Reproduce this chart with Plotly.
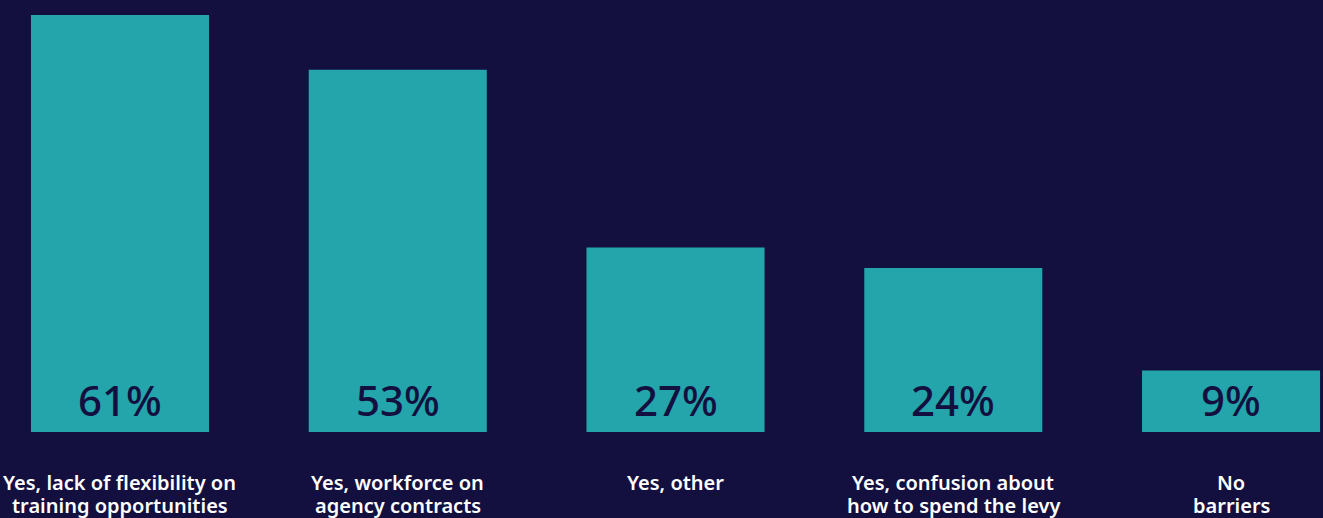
import plotly.graph_objects as go

categories = [
    "Yes, lack of flexibility on<br>training opportunities",
    "Yes, workforce on<br>agency contracts",
    "Yes, other",
    "Yes, confusion about<br>how to spend the levy",
    "No<br>barriers",
]
values = [61, 53, 27, 24, 9]
value_labels = ["61%", "53%", "27%", "24%", "9%"]

BG = "#13103F"
BAR = "#23A5AB"
FONT = "Noto Sans"

x = list(range(len(categories)))

fig = go.Figure()
fig.add_trace(go.Bar(
    x=x, y=values, width=0.641,
    marker=dict(color=BAR, line=dict(width=0)),
    hoverinfo="skip",
))

for xi, v, lab in zip(x, values, value_labels):
    fig.add_annotation(x=xi, y=0, text=lab, showarrow=False,
                       yanchor="middle", yshift=33,
                       font=dict(family=FONT, size=42, color=BG, weight=500))

for xi, c in zip(x, categories):
    for li, line in enumerate(c.split("<br>")):
        fig.add_annotation(x=xi, y=0, text=line, showarrow=False,
                           yanchor="middle", yshift=-50 - 23 * li, align="center",
                           font=dict(family=FONT, size=20, color="#FFFFFF", weight=600))

fig.update_layout(
    width=1323, height=518,
    margin=dict(l=0, r=0, t=0, b=86),
    paper_bgcolor=BG, plot_bgcolor=BG,
    showlegend=False,
    xaxis=dict(range=[-0.432, 4.331], visible=False, fixedrange=True),
    yaxis=dict(range=[0, 63.2], visible=False, fixedrange=True),
)

fig.write_html("out.html")
